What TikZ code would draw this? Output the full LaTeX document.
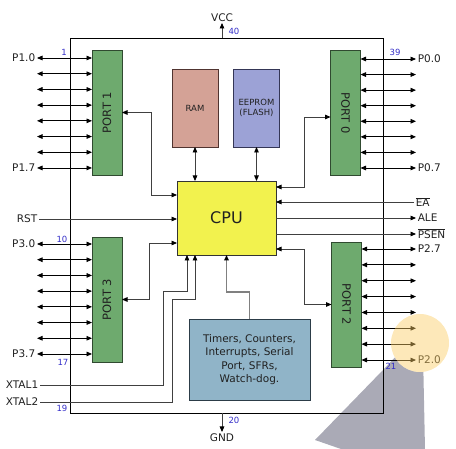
\documentclass[tikz,border=0pt]{standalone}
\usepackage{fontspec}
\setmainfont{DejaVu Sans}
\usetikzlibrary{arrows.meta,calc}
\definecolor{wiregrey}{gray}{0.25}
\definecolor{inkgrey}{gray}{0.13}
\definecolor{pinblue}{RGB}{52,46,200}
\definecolor{portgreen}{RGB}{110,170,110}
\definecolor{portedge}{RGB}{48,74,48}
\definecolor{ramfill}{RGB}{212,162,150}
\definecolor{ramedge}{RGB}{80,52,48}
\definecolor{romfill}{RGB}{156,162,214}
\definecolor{romedge}{RGB}{52,54,86}
\definecolor{cpufill}{RGB}{242,242,78}
\definecolor{tmrfill}{RGB}{144,180,200}
\definecolor{tmredge}{RGB}{44,60,72}
\definecolor{spotfill}{RGB}{252,205,100}
\definecolor{shadefill}{RGB}{170,170,182}
\newcommand{\pinfont}{\fontsize{10.5}{12}\selectfont}
\newcommand{\numfont}{\fontsize{8.5}{10}\selectfont}
\newcommand{\memfont}{\fontsize{8.5}{10}\selectfont}
\newcommand{\portfont}{\fontsize{11.5}{13}\selectfont}
\newcommand{\tmrfont}{\fontsize{10.5}{13.3}\selectfont}
\tikzset{
  chip/.style={x=1pt, y=-1pt, font=\pinfont, text=inkgrey,
               >={Triangle[length=5.5pt,width=4.6pt,color=black]}},
  % any of the boxes inside the chip
  blockbox/.style={rectangle, draw, inner sep=0pt, outer sep=0pt, line width=0.8pt},
  % the four I/O ports
  portbox/.style={blockbox, fill=portgreen, draw=portedge, font=\portfont,
                  minimum width=30pt, minimum height=125pt},
  % RAM and EEPROM
  membox/.style={blockbox, font=\memfont, align=center,
                 minimum width=46pt, minimum height=78pt},
  % an internal bus line
  wire/.style={draw=wiregrey, line width=0.9pt},
  % an external pin, with tips at both ends
  pin/.style={draw=black, line width=0.8pt, <->},
  % pin name outside the chip
  pinname/.style={inner sep=1.6pt},
  % blue pin number
  pinno/.style={font=\numfont, text=pinblue, inner sep=0pt},
}
% eight pins of one port: port edge, free x, first y, gap, prefix
\newcommand{\pinrow}[5]{%
  \foreach \k in {0,...,7}{%
    \coordinate (#5\k) at (#2,{#3+\k*#4});%
    \draw[pin] (#5\k) -- (#5\k -| #1);%
  }%
}

\begin{document}
\begin{tikzpicture}[chip]
  \useasboundingbox (0,0) rectangle (456,449);
  % pointer shadow under the drawing, cut off by the spot
  \fill[shadefill] (383,370) -- (400,352) -- (423,352) -- (425,449) -- (341,449) -- (315,440) -- cycle;
  \fill[white] (420,343) circle (29);

  \node[blockbox, draw=black, minimum width=313pt, minimum height=375pt] (chip) at (226.5,225.5) {};

  \node[portbox] (port1) at (107,112.5) {\rotatebox{90}{PORT 1}};
  \node[portbox] (port0) at (345.5,113) {\rotatebox{-90}{PORT 0}};
  \node[portbox] (port3) at (107,299.5) {\rotatebox{90}{PORT 3}};
  \node[portbox] (port2) at (346.5,304.5) {\rotatebox{-90}{PORT 2}};
  \node[membox, fill=ramfill, draw=ramedge] (ram) at (195,108) {RAM};
  \node[membox, fill=romfill, draw=romedge] (rom) at (256.5,108) {EEPROM\\(FLASH)};
  \node[blockbox, fill=cpufill, draw=black!80, font=\fontsize{16}{18}\selectfont,
        minimum width=99pt, minimum height=74pt] (cpu) at (226.5,218) {CPU};
  \node[blockbox, fill=tmrfill, draw=tmredge, font=\tmrfont, align=center,
        minimum width=121pt, minimum height=81pt] (tmr) at (249.5,359.5)
        {Timers, Counters,\\Interrupts, Serial\\Port, SFRs,\\Watch-dog.};

  % port pins
  \pinrow{port1.west}{37}{58}{15.71}{pa}
  \pinrow{port0.east}{416}{59}{15.57}{pb}
  \pinrow{port3.west}{37}{244}{15.71}{pc}
  \pinrow{port2.east}{416}{249}{15.86}{pd}
  \node[pinname, anchor=east] (n10) at (pa0) {P1.0};
  \node[pinname, anchor=east] (n17) at (pa7) {P1.7};
  \node[pinname, anchor=west] (n00) at (pb0) {P0.0};
  \node[pinname, anchor=west] (n07) at (pb7) {P0.7};
  \node[pinname, anchor=east] (n30) at (pc0) {P3.0};
  \node[pinname, anchor=east] (n37) at (pc7) {P3.7};
  \node[pinname, anchor=west] (n27) at (pd0) {P2.7};
  \node[pinname, anchor=west] (n20) at (pd7) {P2.0};

  % buses to the CPU
  \coordinate (k1) at (151,195);
  \coordinate (k3) at (149,243);
  \coordinate (k0) at (304,187);
  \coordinate (k2) at (304,249);
  \draw[wire, <->] (port1.east) -| (k1) -- (k1 -| cpu.west);
  \draw[wire, <->] (port3.east) -| (k3) -- (k3 -| cpu.west);
  \draw[wire, <->] (k0 -| cpu.east) -- (k0) |- ($(port0.west)+(0,4)$);
  \draw[wire, <->] (k2 -| cpu.east) -- (k2) |- (port2.west);
  \draw[wire, <->] (ram.south) -- (ram.south |- cpu.north);
  \draw[wire, <->] (rom.south) -- (rom.south |- cpu.north);

  % control lines
  \coordinate (rst) at (39,219);
  \coordinate (ea) at (414,202);
  \coordinate (ale) at (416,218);
  \coordinate (psen) at (416,234);
  \draw[wire, ->] (rst) -- (rst -| cpu.west);
  \draw[wire, ->] (ea) -- (ea -| cpu.east);
  \draw[wire, ->] (ale -| cpu.east) -- (ale);
  \draw[wire, ->] (psen -| cpu.east) -- (psen);
  \node[pinname, anchor=east] (nrst) at (rst) {RST};
  \node[pinname, anchor=west] (nea) at (ea) {$\overline{\hbox{EA}}$};
  \node[pinname, anchor=west] (nale) at (ale) {ALE};
  \node[pinname, anchor=west] (npsen) at (psen) {$\overline{\hbox{PSEN}}$};

  % crystal and timer lines
  \coordinate (xt1) at (40,385);
  \coordinate (xt2) at (40,402);
  \coordinate (j1) at (163,291);
  \coordinate (j2) at (172,299);
  \coordinate (jt) at (226.5,292);
  \draw[wire, ->] (xt1) -| (j1) -| ($(cpu.south west)+(10,0)$);
  \draw[wire, ->] (xt2) -| (j2) -| ($(cpu.south west)+(18,0)$);
  \draw[wire, ->, line width=1.3pt, draw=gray] (tmr.north) |- (jt) -- (cpu.south);
  \node[pinname, anchor=east] (nx1) at (xt1) {XTAL1};
  \node[pinname, anchor=east] (nx2) at (xt2) {XTAL2};

  % supply
  \coordinate (vcc) at (222,23);
  \coordinate (gnd) at (222,432);
  \draw[wire, ->] (vcc |- chip.north) -- (vcc);
  \draw[wire, ->] (gnd |- chip.south) -- (gnd);
  \node[pinname, anchor=south] (nvcc) at (vcc) {VCC};
  \node[pinname, anchor=north] (ngnd) at (gnd) {GND};

  % pin numbers
  \node[pinno] (no1) at (64,52) {1};
  \node[pinno] (no39) at (395,52) {39};
  \node[pinno] (no10) at (62,239) {10};
  \node[pinno] (no17) at (63,362) {17};
  \node[pinno] (no21) at (391,366) {21};
  \node[pinno] (no19) at (62,408) {19};
  \node[pinno] (no40) at (234,31) {40};
  \node[pinno] (no20) at (234,420) {20};

  % pointer spot on top
  \fill[spotfill, opacity=0.45] (420,343) circle (29);
\end{tikzpicture}
\end{document}
